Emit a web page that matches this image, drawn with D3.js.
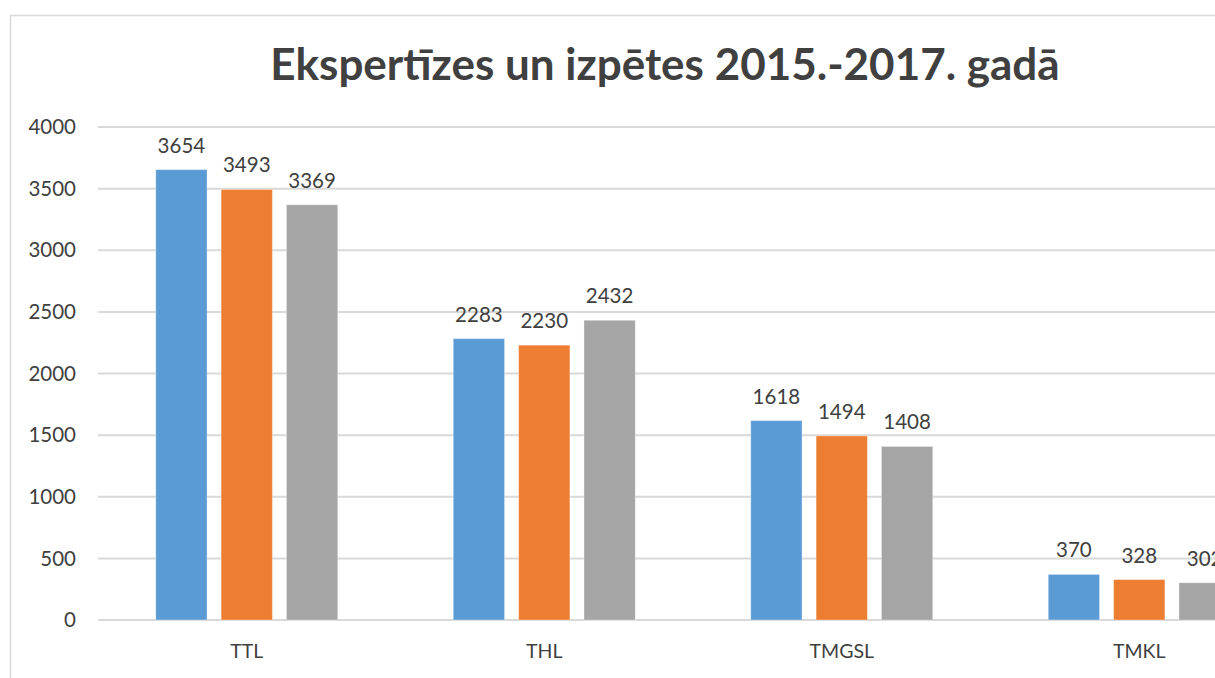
<!DOCTYPE html>
<html>
<head>
<meta charset="utf-8">
<script src="https://cdn.jsdelivr.net/npm/d3@7"></script>
<style>
  body { margin: 0; background: #fff; }
  svg { display: block; font-family: Lato, "Open Sans", sans-serif; }
</style>
</head>
<body>
<div id="chart"></div>
<script>
// values
var categories = ["TTL", "THL", "TMGSL", "TMKL"];
var years = ["2015", "2016", "2017"];
var values2015 = [3654, 2283, 1618, 370];
var values2016 = [3493, 2230, 1494, 328];
var values2017 = [3369, 2432, 1408, 302];
var yTicks = [0, 500, 1000, 1500, 2000, 2500, 3000, 3500, 4000];
var colors = ["#5b9bd5", "#ed7d31", "#a5a5a5"];
var title = "Ekspertīzes un izpētes 2015.-2017. gadā";

var series = [values2015, values2016, values2017];

var W = 1215, H = 678;
// plot area - the original chart is wider than the picture, so the right part is cut off
var plot = {left: 98, top: 127, width: 1190, height: 493};

var svg = d3.select("#chart").append("svg")
  .attr("width", W)
  .attr("height", H);

//chart frame
svg.append("rect")
  .attr("x", 10.5).attr("y", 15.5)
  .attr("width", 1300).attr("height", 760)
  .attr("fill", "none")
  .attr("stroke", "#d9d9d9")
  .attr("stroke-width", 1.5);

var g = svg.append("g")
  .attr("transform", "translate(" + plot.left + "," + plot.top + ")");

var x = d3.scaleBand().domain(categories).range([0, plot.width]);
var y = d3.scaleLinear().domain([0, 4000]).range([plot.height, 0]);

//bars in a group: 51px wide with 14px gaps
var inner = d3.scaleBand().domain(years).range([0, 182]).paddingInner(0.215);
var groupOffset = (x.bandwidth() - 182) / 2;

//gridlines
g.append("g")
  .selectAll("line")
  .data(yTicks)
  .join("line")
  .attr("x1", 0).attr("x2", plot.width)
  .attr("y1", function(d){ return y(d); })
  .attr("y2", function(d){ return y(d); })
  .attr("stroke", "#d9d9d9")
  .attr("stroke-width", 2);

//y tick labels
g.append("g")
  .selectAll("text")
  .data(yTicks)
  .join("text")
  .attr("x", -22)
  .attr("y", function(d){ return y(d); })
  .attr("dy", "0.35em")
  .attr("text-anchor", "end")
  .attr("fill", "#404040")
  .style("font-size", "20.5px")
  .text(function(d){ return d; });

//bars and value labels per year
series.forEach(function(vals, si){
  var sg = g.append("g");
  sg.selectAll("rect")
    .data(vals)
    .join("rect")
    .attr("x", function(d, i){ return x(categories[i]) + groupOffset + inner(years[si]); })
    .attr("y", function(d){ return y(d); })
    .attr("width", inner.bandwidth())
    .attr("height", function(d){ return plot.height - y(d); })
    .attr("fill", colors[si])
    .attr("stroke", "#fff")
    .attr("stroke-opacity", 0.35)
    .attr("stroke-width", 1);

  sg.selectAll("text")
    .data(vals)
    .join("text")
    .attr("x", function(d, i){ return x(categories[i]) + groupOffset + inner(years[si]) + inner.bandwidth() / 2; })
    .attr("y", function(d){ return y(d) - 17; })
    .attr("text-anchor", "middle")
    .attr("fill", "#404040")
    .style("font-size", "20.5px")
    .text(function(d){ return d; });
});

//category labels
g.append("g")
  .selectAll("text")
  .data(categories)
  .join("text")
  .attr("x", function(d){ return x(d) + x.bandwidth() / 2; })
  .attr("y", plot.height + 38)
  .attr("text-anchor", "middle")
  .attr("fill", "#404040")
  .style("font-size", "19.5px")
  .text(function(d){ return d; });

//title
svg.append("text")
  .attr("x", 665)
  .attr("y", 80)
  .attr("text-anchor", "middle")
  .attr("fill", "#404040")
  .attr("font-weight", "bold")
  .style("font-size", "44px")
  .text(title);
</script>
</body>
</html>
